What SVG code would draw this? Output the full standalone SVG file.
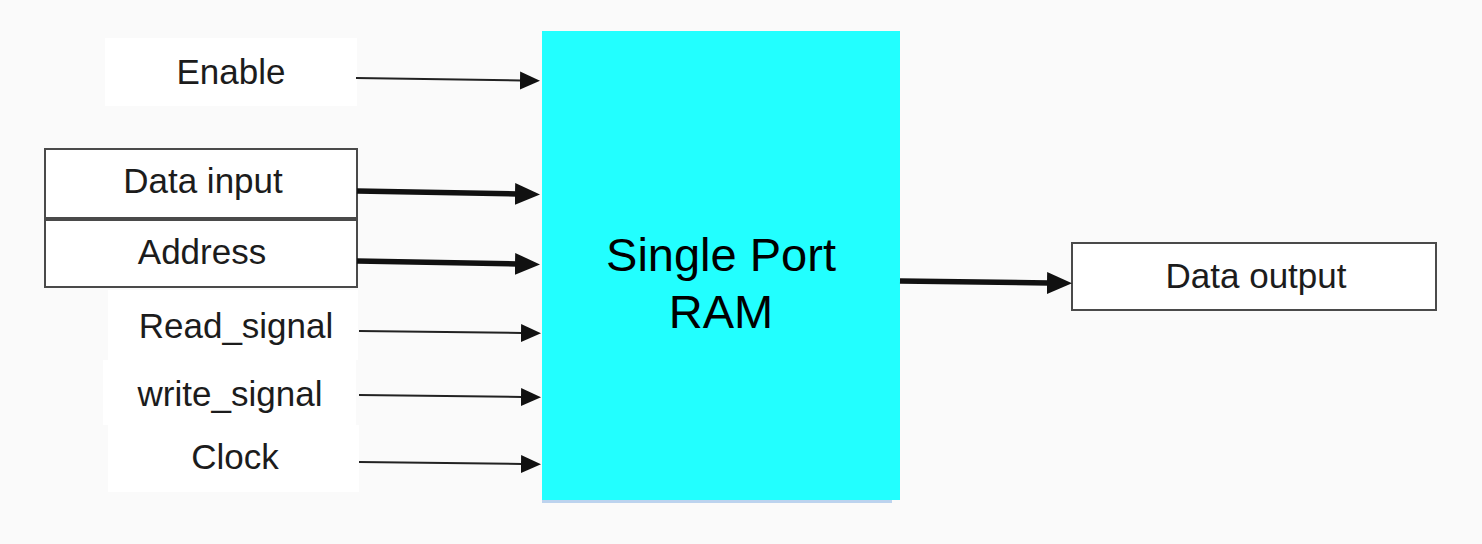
<svg xmlns="http://www.w3.org/2000/svg" width="1482" height="544" viewBox="0 0 1482 544">
  <style>
    .lbl { font-family: "Liberation Sans", Arial, sans-serif; font-size: 35px; fill: #1c1c1c; text-anchor: middle; }
    .core { font-family: "Liberation Sans", Arial, sans-serif; font-size: 47px; fill: #000000; text-anchor: middle; }
    .pad { fill: #ffffff; stroke: none; }
    .box { fill: #ffffff; stroke: #4a4a4a; stroke-width: 2; }
    .thin { stroke: #222222; stroke-width: 2; fill: none; marker-end: url(#headThin); }
    .bus { stroke: #111111; stroke-width: 5.5; fill: none; marker-end: url(#headBus); }
  </style>
  <defs>
    <marker id="headThin" markerUnits="userSpaceOnUse" viewBox="0 0 21 20" markerWidth="21" markerHeight="20" refX="1" refY="10" orient="auto">
      <path d="M0,1 L20,10 L0,19 z" fill="#111111"/>
    </marker>
    <marker id="headBus" markerUnits="userSpaceOnUse" viewBox="0 0 26 24" markerWidth="26" markerHeight="24" refX="2" refY="12" orient="auto">
      <path d="M0,1 L25,12 L0,23 z" fill="#111111"/>
    </marker>
  </defs>

  <rect x="0" y="0" width="1482" height="544" fill="#fafafa"/>

  <!-- control inputs (unframed labels on white pads) -->
  <g id="enable">
    <rect class="pad" x="105" y="38" width="252" height="68"/>
    <text class="lbl" x="231" y="84">Enable</text>
  </g>
  <g id="data-input">
    <rect class="box" x="45" y="149" width="312" height="69"/>
    <text class="lbl" x="203" y="193">Data input</text>
  </g>
  <g id="address">
    <rect class="box" x="45" y="220" width="312" height="67"/>
    <text class="lbl" x="202" y="264">Address</text>
  </g>
  <g id="read-signal">
    <rect class="pad" x="108" y="290" width="250" height="70"/>
    <text class="lbl" x="236" y="338">Read_signal</text>
  </g>
  <g id="write-signal">
    <rect class="pad" x="103" y="360" width="253" height="65"/>
    <text class="lbl" x="230" y="406">write_signal</text>
  </g>
  <g id="clock">
    <rect class="pad" x="108" y="425" width="251" height="67"/>
    <text class="lbl" x="235" y="469">Clock</text>
  </g>

  <!-- memory block -->
  <g id="ram">
    <rect x="542" y="34" width="350" height="469" fill="#bcd3ee"/>
    <rect x="542" y="31" width="358" height="469" fill="#22ffff"/>
    <text class="core" x="721" y="271">Single Port</text>
    <text class="core" x="721" y="328">RAM</text>
  </g>

  <!-- output -->
  <g id="data-output">
    <rect class="box" x="1072" y="243" width="364" height="67"/>
    <text class="lbl" x="1256" y="288">Data output</text>
  </g>

  <!-- signal connectors -->
  <g id="connectors">
    <line class="thin" x1="356" y1="78" x2="521" y2="80.5"/>
    <line class="bus" x1="357" y1="191" x2="517" y2="194"/>
    <line class="bus" x1="357" y1="261" x2="517" y2="264"/>
    <line class="thin" x1="359" y1="331" x2="522" y2="333"/>
    <line class="thin" x1="359" y1="395" x2="522" y2="397"/>
    <line class="thin" x1="359" y1="462" x2="522" y2="464"/>
    <line class="bus" x1="900" y1="281" x2="1049" y2="283"/>
  </g>
</svg>
